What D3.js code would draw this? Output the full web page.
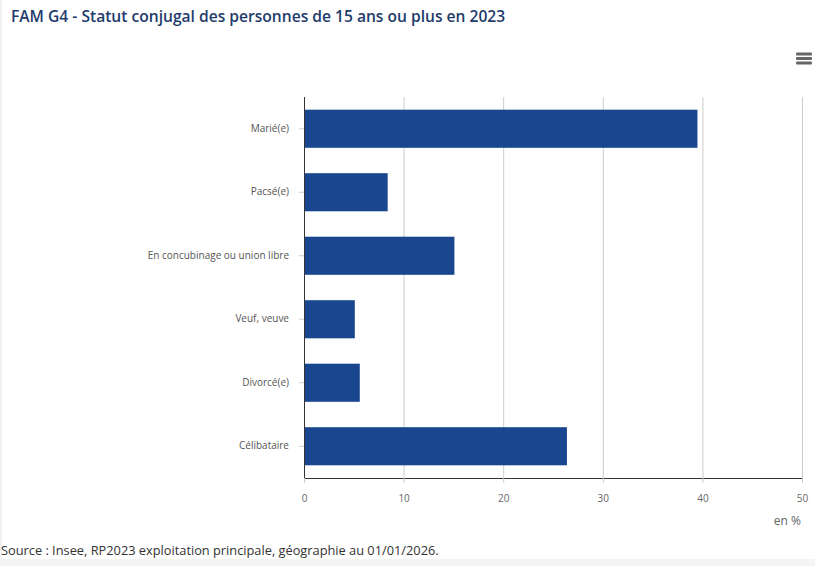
<!DOCTYPE html>
<html>
<head>
<meta charset="utf-8">
<script src="https://cdn.jsdelivr.net/npm/d3@7"></script>
<style>
  body { margin: 0; background: #fff; }
  svg { display: block; font-family: "Open Sans", sans-serif; }
</style>
</head>
<body>
<svg id="chart" width="815" height="566"></svg>
<script>
var categories = ["Marié(e)", "Pacsé(e)", "En concubinage ou union libre", "Veuf, veuve", "Divorcé(e)", "Célibataire"];
var values = [39.5, 8.4, 15.1, 5.1, 5.6, 26.4];
var xTicks = [0, 10, 20, 30, 40, 50];
var title = "FAM G4 - Statut conjugal des personnes de 15 ans ou plus en 2023";
var source = "Source : Insee, RP2023 exploitation principale, géographie au 01/01/2026.";

var svg = d3.select("#chart");

// page decorations
svg.append("rect").attr("x", 0).attr("y", 0).attr("width", 2).attr("height", 566).attr("fill", "#f2f2f2");
svg.append("rect").attr("x", 0).attr("y", 559).attr("width", 815).attr("height", 7).attr("fill", "#f4f4f4");

svg.append("text").attr("x", 11).attr("y", 22)
  .attr("font-size", 15.6).attr("font-weight", 600).attr("fill", "#1f3b6b")
  .text(title);

// menu icon
[0, 1, 2].forEach(function(i) {
  svg.append("rect").attr("x", 796).attr("y", 52.5 + i * 4.5).attr("width", 16).attr("height", 3)
    .attr("rx", 1).attr("fill", "#666");
});

var plotLeft = 304, plotRight = 802, plotTop = 97, plotBottom = 478;

var x = d3.scaleLinear().domain([0, 50]).range([plotLeft, plotRight]);
var y = d3.scaleBand().domain(categories).range([plotTop, plotBottom]).paddingInner(0.4).paddingOuter(0.2);

// gridlines
svg.append("g").selectAll("line").data(xTicks.slice(1)).enter().append("line")
  .attr("x1", function(d) { return x(d) + 0.5; }).attr("x2", function(d) { return x(d) + 0.5; })
  .attr("y1", plotTop).attr("y2", plotBottom)
  .attr("stroke", "#cccccc").attr("stroke-width", 1);

// bars
svg.append("g").selectAll("rect").data(values).enter().append("rect")
  .attr("x", x(0))
  .attr("y", function(d, i) { return y(categories[i]); })
  .attr("width", function(d) { return x(d) - x(0); })
  .attr("height", y.bandwidth())
  .attr("fill", "#19468f");

// x axis
var xAxis = svg.append("g").attr("transform", "translate(0," + plotBottom + ")")
  .call(d3.axisBottom(x).tickValues(xTicks).tickSize(5).tickPadding(12));
xAxis.select(".domain").attr("stroke", "#333");
xAxis.selectAll(".tick line").attr("stroke", "#ccc");
xAxis.selectAll("text").attr("font-size", 10).attr("fill", "#666").attr("font-family", "Open Sans, sans-serif");

svg.append("text").attr("x", 801).attr("y", 525).attr("text-anchor", "end")
  .attr("font-size", 12).attr("fill", "#666").text("en %");

// y axis
var yAxis = svg.append("g").attr("transform", "translate(" + plotLeft + ",0)")
  .call(d3.axisLeft(y).tickSize(5).tickPadding(10));
yAxis.select(".domain").attr("stroke", "#333").attr("d", "M0.5," + plotTop + "V" + plotBottom);
yAxis.selectAll(".tick line").attr("stroke", "#ccc");
yAxis.selectAll("text").attr("font-size", 10).attr("fill", "#555").attr("font-family", "Open Sans, sans-serif");

svg.append("text").attr("x", 1).attr("y", 555)
  .attr("font-size", 12.8).attr("fill", "#333").text(source);
</script>
</body>
</html>
